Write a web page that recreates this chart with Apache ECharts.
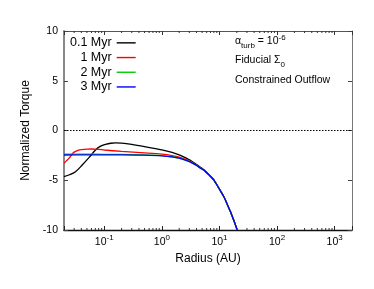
<!DOCTYPE html>
<html>
<head>
<meta charset="utf-8">
<script src="https://cdn.jsdelivr.net/npm/echarts@6/dist/echarts.min.js"></script>
<style>
html,body{margin:0;padding:0;background:#fff;}
#c{width:374px;height:289px;}
</style>
</head>
<body>
<div id="c"></div>
<script>
// ---- data ----
const seriesNames = ['0.1 Myr', '1 Myr', '2 Myr', '3 Myr'];
const seriesColors = ['#000000', '#ff0000', '#00cc00', '#0000ff'];

const tailR = [5.33, 6, 7, 8, 10, 12, 14, 15.5, 17, 18.5, 20.3];
const tailT = [-3.97, -4.25, -4.62, -4.98, -5.9, -6.69, -7.57, -8.15, -8.76, -9.32, -10];

const r01 = [0.02, 0.025, 0.0317, 0.0414, 0.0542, 0.0706, 0.085, 0.105, 0.13, 0.157, 0.2, 0.3, 0.5, 1, 1.5, 2, 2.74, 3.13, 4, 4.67, 5.33, 6, 7, 8];
const t01 = [-4.64, -4.45, -4.14, -3.47, -2.73, -1.96, -1.6, -1.4, -1.28, -1.25, -1.27, -1.4, -1.62, -1.95, -2.2, -2.45, -2.82, -3.0, -3.42, -3.7, -3.93, -4.2, -4.6, -4.95];
const r01Tail = [10, 12, 14, 15.5, 17, 18.5, 20.3];
const t01Tail = [-5.9, -6.69, -7.57, -8.15, -8.76, -9.32, -10];

const r1 = [0.02, 0.022, 0.0243, 0.027, 0.0296, 0.035, 0.04, 0.05, 0.06, 0.08, 0.1, 0.2, 0.5, 1, 1.5, 2, 3, 4, 4.67];
const t1 = [-3.3, -3.05, -2.8, -2.45, -2.2, -2.0, -1.93, -1.87, -1.86, -1.9, -1.96, -2.1, -2.25, -2.38, -2.52, -2.68, -3.04, -3.48, -3.76];

const r2 = [0.02, 0.05, 0.1, 0.2, 0.5, 1, 1.5, 2, 3, 4, 4.67];
const t2 = [-2.38, -2.38, -2.39, -2.4, -2.45, -2.53, -2.64, -2.77, -3.11, -3.51, -3.77];

const r3 = [0.02, 0.05, 0.1, 0.2, 0.5, 1, 1.5, 2, 3, 4, 4.67];
const t3 = [-2.46, -2.45, -2.44, -2.44, -2.48, -2.55, -2.65, -2.78, -3.12, -3.52, -3.78];

const minorMultipliers = [2, 3, 4, 5, 6, 7, 8, 9];
const decades = [0.01, 0.1, 1, 10, 100, 1000];

// ---- build ----
function pairs(r, t) { return r.map((v, i) => [v, t[i]]); }
const d01 = pairs(r01.concat(r01Tail), t01.concat(t01Tail));
const d1 = pairs(r1.concat(tailR), t1.concat(tailT));
const d2 = pairs(r2.concat(tailR), t2.concat(tailT));
const d3 = pairs(r3.concat(tailR), t3.concat(tailT));
const allData = [d01, d1, d2, d3];

const X_MIN = 0.02, X_MAX = 2000;
const minorTicks = [];
decades.forEach(d => minorMultipliers.forEach(m => {
  const v = d * m;
  if (v > X_MIN && v < X_MAX) minorTicks.push([v, 0]);
}));

const FONT = 'Liberation Sans, Arial, Helvetica, sans-serif';

const chart = echarts.init(document.getElementById('c'), null, {renderer: 'canvas'});

const lineSeries = seriesNames.map((name, i) => {
  const s = {
    name: name,
    type: 'line',
    data: allData[i],
    xAxisIndex: 0,
    yAxisIndex: 0,
    symbol: 'none',
    showSymbol: false,
    smooth: 0.3,
    lineStyle: {color: seriesColors[i], width: 1.3},
    itemStyle: {color: seriesColors[i]},
    z: 3 + i,
    animation: false
  };
  if (i === 0) {
    s.markLine = {
      silent: true,
      symbol: 'none',
      label: {show: false},
      lineStyle: {type: [1.5, 1.5], color: '#000', width: 1},
      data: [{yAxis: 0}],
      animation: false
    };
  }
  return s;
});

const minorSeries = {
  type: 'custom',
  xAxisIndex: 0,
  yAxisIndex: 0,
  silent: true,
  animation: false,
  data: minorTicks,
  renderItem: function (params, api) {
    const r = api.value(0);
    const b = api.coord([r, -10]);
    const t = api.coord([r, 10]);
    const st = {stroke: '#333', lineWidth: 1};
    return {
      type: 'group',
      children: [
        {type: 'line', shape: {x1: b[0], y1: b[1], x2: b[0], y2: b[1] - 2}, style: st},
        {type: 'line', shape: {x1: t[0], y1: t[1], x2: t[0], y2: t[1] + 2}, style: st}
      ]
    };
  }
};

const xLabelFormatter = function (v) {
  const lg = Math.log10(v);
  const e = Math.round(lg);
  if (Math.abs(lg - e) > 1e-6) return '';
  return '{b|10}{s|' + e + '}';
};

const option = {
  backgroundColor: '#fff',
  animation: false,
  textStyle: {fontFamily: FONT},
  grid: {left: 64, right: 22, top: 31, bottom: 59, show: false},
  legend: {
    data: seriesNames.map((n, i) => ({name: n, itemStyle: {color: seriesColors[i]}})),
    orient: 'vertical',
    align: 'right',
    left: 70,
    top: 35.5,
    padding: 0,
    itemGap: 0,
    icon: 'rect',
    itemWidth: 19,
    itemHeight: 1.4,
    selectedMode: false,
    textStyle: {fontFamily: FONT, fontSize: 12.5, color: '#000', lineHeight: 14.7}
  },
  xAxis: [
    {
      type: 'log',
      logBase: 10,
      min: X_MIN,
      max: X_MAX,
      position: 'bottom',
      name: 'Radius (AU)',
      nameLocation: 'middle',
      nameGap: 21,
      nameTextStyle: {fontFamily: FONT, fontSize: 12, color: '#000'},
      axisLine: {show: true, onZero: false, lineStyle: {color: '#111', width: 1.3}},
      axisTick: {show: true, inside: true, length: 4, lineStyle: {color: '#222'}},
      axisLabel: {
        show: true,
        margin: 6,
        formatter: xLabelFormatter,
        rich: {
          b: {fontFamily: FONT, fontSize: 10.5, color: '#000', lineHeight: 12, verticalAlign: 'bottom'},
          s: {fontFamily: FONT, fontSize: 8, color: '#000', lineHeight: 9, verticalAlign: 'bottom', padding: [0, 0, 6, 0]}
        }
      },
      splitLine: {show: false}
    },
    {
      type: 'log',
      logBase: 10,
      min: X_MIN,
      max: X_MAX,
      position: 'top',
      axisLine: {show: true, onZero: false, lineStyle: {color: '#555', width: 1}},
      axisTick: {show: true, inside: true, length: 4, lineStyle: {color: '#333'}},
      axisLabel: {show: false},
      splitLine: {show: false}
    }
  ],
  yAxis: [
    {
      type: 'value',
      min: -10,
      max: 10,
      interval: 5,
      position: 'left',
      name: 'Normalized Torque',
      nameLocation: 'middle',
      nameGap: 20,
      nameTextStyle: {fontFamily: FONT, fontSize: 12, color: '#000'},
      axisLine: {show: true, onZero: false, lineStyle: {color: '#888', width: 2}},
      axisTick: {show: true, inside: true, length: 4, lineStyle: {color: '#444'}},
      axisLabel: {show: true, margin: 6, fontFamily: FONT, fontSize: 10.5, color: '#000'},
      splitLine: {show: false}
    },
    {
      type: 'value',
      min: -10,
      max: 10,
      interval: 5,
      position: 'right',
      axisLine: {show: true, onZero: false, lineStyle: {color: '#777', width: 1}},
      axisTick: {show: true, inside: true, length: 4, lineStyle: {color: '#444'}},
      axisLabel: {show: false},
      splitLine: {show: false}
    }
  ],
  graphic: [
    {
      type: 'text', left: 235, top: 34, silent: true,
      style: {
        text: '{n|α}{sub|turb}{n| = 10}{sup|-6}',
        rich: {
          n: {fontFamily: FONT, fontSize: 10.5, fill: '#000', lineHeight: 12, verticalAlign: 'bottom', padding: [0, 0, 3, 0]},
          sub: {fontFamily: FONT, fontSize: 8, fill: '#000', lineHeight: 9, verticalAlign: 'bottom'},
          sup: {fontFamily: FONT, fontSize: 8, fill: '#000', lineHeight: 9, verticalAlign: 'bottom', padding: [0, 0, 8, 0]}
        }
      }
    },
    {
      type: 'text', left: 235, top: 55, silent: true,
      style: {
        text: '{n|Fiducial Σ}{sub|0}',
        rich: {
          n: {fontFamily: FONT, fontSize: 10.5, fill: '#000', lineHeight: 12, verticalAlign: 'bottom', padding: [0, 0, 3, 0]},
          sub: {fontFamily: FONT, fontSize: 8, fill: '#000', lineHeight: 9, verticalAlign: 'bottom'}
        }
      }
    },
    {
      type: 'text', left: 235, top: 75, silent: true,
      style: {text: 'Constrained Outflow', fontFamily: FONT, fontSize: 10.5, fill: '#000'}
    }
  ],
  series: lineSeries.concat([minorSeries])
};

chart.setOption(option);
</script>
</body>
</html>
